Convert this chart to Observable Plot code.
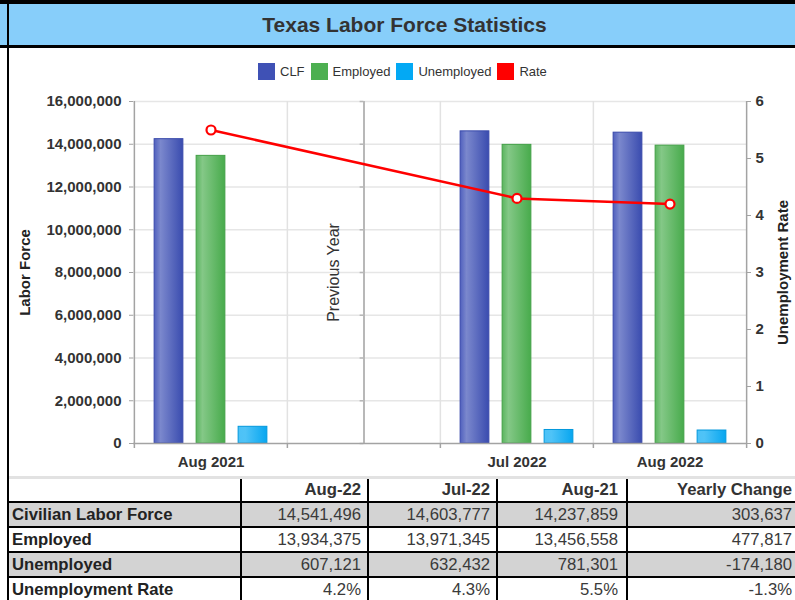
<!DOCTYPE html>
<html>
<head>
<meta charset="utf-8">
<script src="https://cdn.jsdelivr.net/npm/d3@7"></script>
<script src="https://cdn.jsdelivr.net/npm/@observablehq/plot@0.6"></script>
<style>
  html, body { margin: 0; padding: 0; background: #fff; }
  body { width: 795px; height: 600px; position: relative; overflow: hidden; font-family: "Liberation Sans", Arial, sans-serif; }
  #titlebar { position: absolute; left: 0; top: 0; width: 795px; height: 41px; box-sizing: content-box;
    background: #87cefa; border-top: 4px solid #000; border-bottom: 3px solid #000; }
  #titlebar div { position: absolute; left: 9px; right: -5px; top: 0; line-height: 41px; text-align: center;
    font-size: 21px; font-weight: bold; color: #333; }
  #vline { position: absolute; left: 7px; top: 0; width: 2px; height: 600px; background: #000; z-index: 10; }
  #legend { position: absolute; top: 63px; left: 258px; display: flex; align-items: center; height: 17px;
    font-size: 13px; color: #333; }
  #legend .it { display: flex; align-items: center; margin-right: 6px; }
  #legend .sw { width: 17px; height: 17px; margin-right: 5px; }
  #chart { position: absolute; left: 0; top: 86px; }
  #table { position: absolute; left: 0; top: 0; width: 795px; height: 600px; pointer-events: none; }
  .cell { position: absolute; white-space: nowrap; font-size: 16.7px; color: #3a3a3a; overflow: hidden; }
  .line { position: absolute; background: #000; }
</style>
</head>
<body>
<div id="titlebar"><div>Texas Labor Force Statistics</div></div>
<div id="legend"></div>
<div id="chart"></div>
<div id="table"></div>
<div id="vline"></div>
<script>
// ---------- data ----------
const categories = ["Aug 2021", "", "Jul 2022", "Aug 2022"];
const periods = ["Aug 2021", "Jul 2022", "Aug 2022"];
const clfValues = [14237859, 14603777, 14541496];
const employedValues = [13456558, 13971345, 13934375];
const unemployedValues = [781301, 632432, 607121];
const rateValues = [5.5, 4.3, 4.2];
const laborTicks = [0, 2000000, 4000000, 6000000, 8000000, 10000000, 12000000, 14000000, 16000000];
const rateTicks = [0, 1, 2, 3, 4, 5, 6];
const seriesNames = ["CLF", "Employed", "Unemployed", "Rate"];
const seriesColors = ["#3f51b5", "#4caf50", "#03a9f4", "#ff0000"];
const dividerLabel = "Previous Year";
const leftAxisLabel = "Labor Force";
const rightAxisLabel = "Unemployment Rate";

const tableHeaders = ["Aug-22", "Jul-22", "Aug-21", "Yearly Change"];
const tableRowLabels = ["Civilian Labor Force", "Employed", "Unemployed", "Unemployment Rate"];
const tableAug22 = ["14,541,496", "13,934,375", "607,121", "4.2%"];
const tableJul22 = ["14,603,777", "13,971,345", "632,432", "4.3%"];
const tableAug21 = ["14,237,859", "13,456,558", "781,301", "5.5%"];
const tableYearly = ["303,637", "477,817", "-174,180", "-1.3%"];

// ---------- legend ----------
const legend = document.getElementById("legend");
seriesNames.forEach((name, i) => {
  const it = document.createElement("div");
  it.className = "it";
  it.innerHTML = `<div class="sw" style="background:${seriesColors[i]}"></div><span>${name}</span>`;
  legend.appendChild(it);
});

// ---------- chart ----------
const W = 795, H = 390, mL = 133, mR = 49, mT = 15, mB = 33;
const plotW = W - mL - mR, plotH = H - mT - mB;
const bw = plotW / categories.length;
const barW = 29, barGap = 13;
const groupPad = (bw - 3 * barW - 2 * barGap) / 2;
const yMax = laborTicks[laborTicks.length - 1];
const rMax = rateTicks[rateTicks.length - 1];
const k = yMax / rMax;
const gap = categories[1];

const rows = periods.map((p, i) => ({
  period: p, CLF: clfValues[i], Employed: employedValues[i],
  Unemployed: unemployedValues[i], Rate: rateValues[i]
}));

const barKeys = ["CLF", "Employed", "Unemployed"];
const barStrokes = ["#3949ab", "#43a047", "#0398dc"];
const gradStops = {
  CLF: [[0, "#5060be"], [0.22, "#7b88cd"], [1, "#3a4caf"]],
  Employed: [[0, "#5bb55f"], [0.22, "#84c887"], [1, "#48ab4c"]],
  Unemployed: [[0, "#4cc2f7"], [0.25, "#4fc3f7"], [1, "#07a6f0"]]
};

const barMarks = barKeys.map((key, j) => {
  const il = groupPad + j * (barW + barGap);
  return Plot.barY(rows, {
    x: "period", y: key, fill: `url(#grad${key})`, stroke: barStrokes[j], strokeWidth: 1,
    insetLeft: il, insetRight: bw - il - barW
  });
});

const axisGray = "#a3a3a3";
const font = "'Liberation Sans', Arial, sans-serif";

const svg = Plot.plot({
  width: W, height: H,
  marginLeft: mL, marginRight: mR, marginTop: mT, marginBottom: mB,
  style: { fontFamily: font, background: "transparent", overflow: "visible" },
  x: { type: "band", domain: categories, padding: 0, axis: null },
  y: { domain: [0, yMax], axis: null },
  marks: [
    // horizontal gridlines
    Plot.ruleY(laborTicks.slice(1), { stroke: "#e6e6e6", strokeWidth: 1.5 }),
    // vertical gridlines at category boundaries
    Plot.ruleX(categories.slice(1), { dx: -bw / 2, stroke: "#e2e2e2", strokeWidth: 1.5 }),
    // tick marks below the x axis at boundaries
    Plot.ruleX(categories.slice(1), { dx: -bw / 2, stroke: axisGray, strokeWidth: 1.5, insetTop: plotH, insetBottom: -5 }),
    // "Previous Year" divider
    Plot.ruleX([gap], { stroke: "#b8b8b8", strokeWidth: 2 }),
    Plot.tickY(laborTicks, { x: () => gap, y: d => d, stroke: "#b8b8b8", strokeWidth: 1.5, insetLeft: bw / 2 - 4, insetRight: bw / 2 }),
    Plot.text([dividerLabel], { x: () => gap, frameAnchor: "middle", rotate: -90, dx: -30, fontSize: 16, fill: "#333", fontFamily: font }),
    // axis lines
    Plot.ruleX([categories[0]], { dx: -bw / 2, stroke: axisGray, strokeWidth: 1.5, insetBottom: -5 }),
    Plot.ruleX([categories[categories.length - 1]], { dx: bw / 2, stroke: axisGray, strokeWidth: 1.5, insetBottom: -5 }),
    // bars
    ...barMarks,
    Plot.ruleY([0], { stroke: axisGray, strokeWidth: 1.5 }),
    // rate line
    Plot.line(rows, { x: "period", y: d => d.Rate * k, stroke: seriesColors[3], strokeWidth: 2.5 }),
    Plot.dot(rows, { x: "period", y: d => d.Rate * k, r: 4.5, fill: "white", stroke: seriesColors[3], strokeWidth: 2.2 }),
    // axes
    Plot.axisY(laborTicks, {
      anchor: "left", tickSize: 4, tickPadding: 8, stroke: axisGray, fill: "#333",
      fontSize: 15, fontWeight: "bold", tickFormat: d3.format(","), label: null, fontFamily: font
    }),
    Plot.axisY(rateTicks.map(v => v * k), {
      anchor: "right", tickSize: 4, tickPadding: 5, stroke: axisGray, fill: "#333",
      fontSize: 15, fontWeight: "bold", tickFormat: d => String(Math.round(d / k)), label: null, fontFamily: font
    }),
    Plot.axisX(periods, {
      anchor: "bottom", tickSize: 0, tickPadding: 13, fill: "#333",
      fontSize: 15, fontWeight: "bold", label: null, fontFamily: font
    }),
    Plot.text([leftAxisLabel], { frameAnchor: "left", textAnchor: "middle", dx: -108, rotate: -90, fontSize: 15, fontWeight: "bold", fill: "#222", fontFamily: font }),
    Plot.text([rightAxisLabel], { frameAnchor: "right", textAnchor: "middle", dx: 37, rotate: -90, fontSize: 15, fontWeight: "bold", fill: "#222", fontFamily: font })
  ]
});

// gradients for bars
const defs = d3.select(svg).insert("defs", ":first-child");
Object.entries(gradStops).forEach(([key, stops]) => {
  const g = defs.append("linearGradient").attr("id", `grad${key}`)
    .attr("x1", "0").attr("x2", "1").attr("y1", "0").attr("y2", "0");
  stops.forEach(([o, c]) => g.append("stop").attr("offset", o).attr("stop-color", c));
});
document.getElementById("chart").appendChild(svg);

// ---------- table ----------
const tbl = document.getElementById("table");
function addDiv(cls, style, text) {
  const d = document.createElement("div");
  d.className = cls;
  Object.assign(d.style, style);
  if (text !== undefined) d.textContent = text;
  tbl.appendChild(d);
  return d;
}
const colLines = [241, 368, 497, 627];
const colLeft = [9, 242, 369, 498, 628];
const colRight = [240, 367, 496, 626, 800];
const colPadRight = [0, 6, 6, 8, 8];
const rowTop = [479, 503, 528, 553, 578];
const rowH = [22, 23, 23, 23, 23];
const tableCols = [tableAug22, tableJul22, tableAug21, tableYearly];

// chart bottom border
addDiv("line", { left: "9px", top: "476px", width: "790px", height: "3px", background: "#e2e2e2" });
// gray rows
[1, 3].forEach(r => addDiv("line", { left: "9px", top: rowTop[r] + "px", width: "790px", height: rowH[r] + "px", background: "#d3d3d3" }));
// header
tableHeaders.forEach((h, c) => {
  addDiv("cell", {
    left: colLeft[c + 1] + "px", width: (colRight[c + 1] - colLeft[c + 1] - colPadRight[c + 1]) + "px",
    top: rowTop[0] + "px", height: rowH[0] + "px", lineHeight: rowH[0] + "px",
    textAlign: "right", fontWeight: "bold", color: "#333"
  }, h);
});
// body rows
tableRowLabels.forEach((lab, r) => {
  const t = rowTop[r + 1], h = rowH[r + 1];
  addDiv("cell", {
    left: (colLeft[0] + 3) + "px", width: (colRight[0] - colLeft[0] - 3) + "px",
    top: t + "px", height: h + "px", lineHeight: h + "px", fontWeight: "bold", color: "#222"
  }, lab);
  tableCols.forEach((col, c) => {
    addDiv("cell", {
      left: colLeft[c + 1] + "px", width: (colRight[c + 1] - colLeft[c + 1] - colPadRight[c + 1]) + "px",
      top: t + "px", height: h + "px", lineHeight: h + "px", textAlign: "right"
    }, col[r]);
  });
});
// horizontal black lines
rowTop.slice(1).forEach(t => addDiv("line", { left: "9px", top: (t - 2) + "px", width: "790px", height: "2px" }));
// vertical black lines
colLines.forEach(x => addDiv("line", { left: (x - 1) + "px", top: "479px", width: "2px", height: "121px" }));
</script>
</body>
</html>
